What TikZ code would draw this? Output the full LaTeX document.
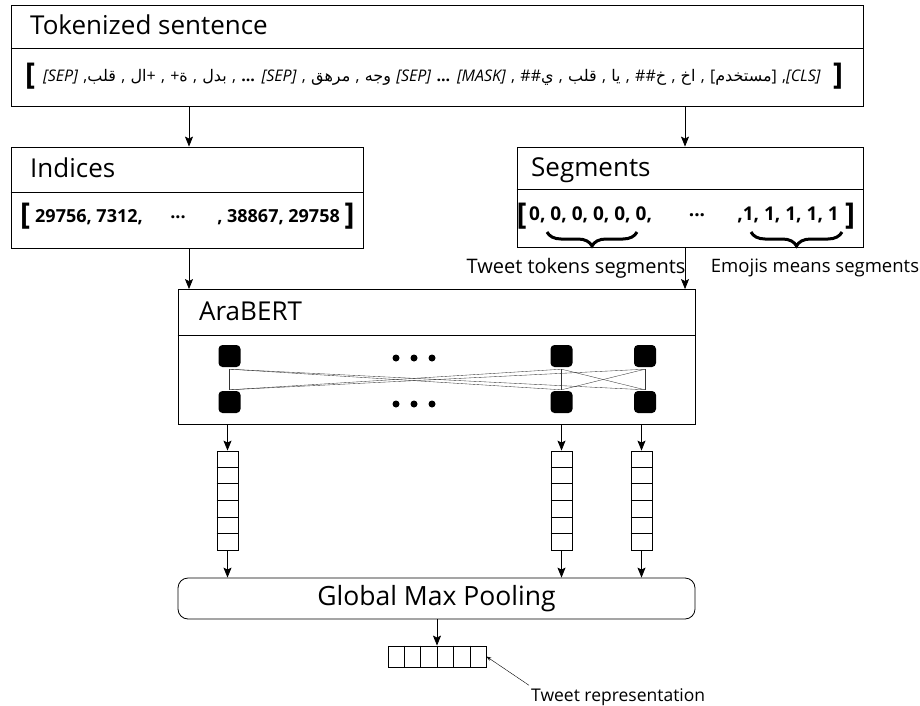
\documentclass[tikz,border=0pt]{standalone}
\usepackage{fontspec}
\setmainfont{Open Sans}
\newfontfamily\arabicfont[Script=Arabic]{DejaVu Sans}
\TeXXeTstate=1
\usetikzlibrary{arrows.meta,decorations.pathreplacing,calc}
\newcommand\arw[1]{{\arabicfont\beginR #1\endR}}
\begin{document}
\begin{tikzpicture}[x=1pt,y=-1pt,
  box/.style={draw, line width=0.8pt, inner sep=0pt},
  ttl/.style={anchor=base west, inner sep=0pt, font=\fontsize{26}{30}\selectfont},
  sq/.style={fill=black, rounded corners=4pt, minimum size=22pt, inner sep=0pt},
  dotn/.style={circle, fill=black, minimum size=7pt, inner sep=0pt},
  vecbox/.style={draw, line width=0.8pt, minimum width=21pt, minimum height=99pt, inner sep=0pt},
  arr/.style={line width=0.8pt, -{Stealth[length=10pt,width=8pt,inset=2pt]}},
  conn/.style={line width=0.35pt, draw=black!80},
  brk/.style={inner sep=0pt, font=\fontsize{30}{30}\selectfont\bfseries},
  num/.style={inner sep=0pt, font=\fontsize{18}{20}\selectfont\bfseries},
  lbl/.style={inner sep=0pt, font=\fontsize{20}{24}\selectfont},
  brc/.style={decorate, decoration={brace, mirror, amplitude=14pt}, line width=3pt}
]
\useasboundingbox (0,0) rectangle (920,706);

% Tokenized sentence
\node[box, minimum width=852pt, minimum height=101pt] (tok) at (437,55.5) {};
\draw[line width=0.8pt] (tok.west |- 0,48) -- (tok.east |- 0,48);
\node[ttl] (toktt) at (30,35) {Tokenized sentence};
\node[brk] (tokl) at (30,76) {[};
\node[brk] (tokr) at (838,76) {]};
\node[inner sep=0pt, font=\fontsize{16}{18}\selectfont] (toks) at (432,77)
 {\spaceskip=5.3pt plus 1pt\relax \textit{[SEP]} ,\arw{قلب} , \arw{ال}+ , +\arw{ة} , \arw{بدل} , \textbf{...} \textit{[SEP]} , \arw{مرهق} , \arw{وجه} \textit{[SEP]} \textbf{...} \textit{[MASK]} , \#\#\arw{ي} , \arw{قلب} , \arw{يا} , \#\#\arw{خ} , \arw{اخ} , [\arw{مستخدم}] ,\textit{[CLS]}};

% Indices
\node[box, minimum width=352pt, minimum height=101pt] (ind) at (187,197.5) {};
\draw[line width=0.8pt] (ind.west |- 0,192) -- (ind.east |- 0,192);
\node[ttl] (indtt) at (30,177) {Indices};
\node[brk] (indl) at (25,216) {[};
\node[num, anchor=west] (ind1) at (35,217) {29756, 7312,};
\node[num] (ind2) at (178,217) {...};
\node[num, anchor=east] (ind3) at (340,217) {, 38867, 29758};
\node[brk] (indr) at (349.5,216) {]};

% Segments
\node[box, minimum width=346pt, minimum height=100pt] (seg) at (690,197) {};
\draw[line width=0.8pt] (seg.west |- 0,189) -- (seg.east |- 0,189);
\node[ttl] (segtt) at (531,176) {Segments};
\node[brk] (segl) at (521.5,216) {[};
\node[num, anchor=west, font=\fontsize{19}{20}\selectfont\bfseries] (seg1) at (529,215) {0, 0, 0, 0, 0, 0,};
\node[num, font=\fontsize{19}{20}\selectfont\bfseries] (seg2) at (697,215) {...};
\node[num, anchor=east, font=\fontsize{19}{20}\selectfont\bfseries] (seg3) at (839,215) {,1, 1, 1, 1, 1};
\node[brk] (segr) at (850,216) {]};

\coordinate (b1a) at (547,232);
\coordinate (b1b) at (637,232);
\coordinate (b2a) at (751,232);
\coordinate (b2b) at (842,232);
\draw[brc] (b1a) -- (b1b);
\draw[brc] (b2a) -- (b2b);
\node[lbl] (lab1) at (576,268) {Tweet tokens segments};
\node[lbl, font=\fontsize{18.5}{22}\selectfont] (lab2) at (815,268) {Emojis means segments};

% AraBERT
\node[box, minimum width=517pt, minimum height=134.5pt] (bert) at (436.5,356.75) {};
\draw[line width=0.8pt] (bert.west |- 0,335.5) -- (bert.east |- 0,335.5);
\node[ttl] (berttt) at (199,320) {AraBERT};

\node[sq] (t1) at (229.5,356) {};
\node[sq] (t2) at (561.5,356) {};
\node[sq] (t3) at (645,356) {};
\node[sq] (b1) at (229.5,402) {};
\node[sq] (b2) at (561.5,402) {};
\node[sq] (b3) at (645,402) {};
\foreach \i in {1,2,3}{\foreach \j in {1,2,3}{\draw[conn] ([yshift=-2pt]t\i.south) -- ([yshift=1pt]b\j.north);}}
\node[dotn] (d1) at (396,358) {};
\node[dotn] (d2) at (414,358) {};
\node[dotn] (d3) at (432,358) {};
\node[dotn] (d4) at (396,404) {};
\node[dotn] (d5) at (414,404) {};
\node[dotn] (d6) at (432,404) {};

% arrows between top boxes
\draw[arr] (tok.south -| 189,0) -- (ind.north -| 189,0);
\draw[arr] (tok.south -| 685,0) -- (seg.north -| 685,0);
\draw[arr] (ind.south -| 189,0) -- (bert.north -| 189,0);
\draw[arr] (seg.south -| 685,0) -- (bert.north -| 685,0);

% vectors
\node[vecbox] (v1) at (227.5,500.5) {};
\node[vecbox] (v2) at (561.5,500.5) {};
\node[vecbox] (v3) at (641.5,500.5) {};
\foreach \v in {v1,v2,v3}{
  \foreach \k in {1,...,5}{
    \draw[line width=0.8pt] ($(\v.north west)!\k/6!(\v.south west)$) -- ($(\v.north east)!\k/6!(\v.south east)$);
  }
}

% Global max pooling
\node[draw, line width=0.8pt, rounded corners=10pt, minimum width=517pt, minimum height=41pt, inner sep=0pt, font=\fontsize{26.5}{30}\selectfont] (gmp) at (436.5,598.5) {Global Max Pooling};

\foreach \v in {v1,v2,v3}{
  \draw[arr] (bert.south -| \v.north) -- (\v.north);
  \draw[arr] (\v.south) -- (gmp.north -| \v.south);
}

% output
\node[draw, line width=0.8pt, minimum width=98pt, minimum height=21pt, inner sep=0pt] (out) at (437,656.5) {};
\foreach \k in {1,...,5}{
  \draw[line width=0.8pt] ($(out.north west)!\k/6!(out.north east)$) -- ($(out.south west)!\k/6!(out.south east)$);
}
\draw[arr] (gmp.south -| out.north) -- (out.north);
\node[lbl, anchor=west, font=\fontsize{17.5}{21}\selectfont] (trl) at (531,697) {Tweet representation};
\draw[line width=0.4pt, -{Stealth[length=5pt,width=3.5pt]}] ([xshift=-2pt,yshift=3pt]trl.north west) -- (out.east);
\end{tikzpicture}
\end{document}
